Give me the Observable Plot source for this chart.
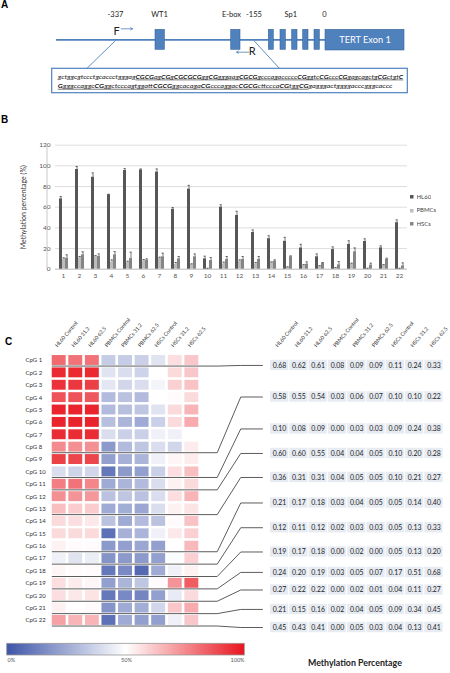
<!DOCTYPE html>
<html><head><meta charset="utf-8">
<script src="https://cdn.jsdelivr.net/npm/d3@7"></script>
<script src="https://cdn.jsdelivr.net/npm/@observablehq/plot@0.6"></script>
<style>
body{margin:0;background:#fff;}
#fig{position:relative;width:450px;height:673px;overflow:hidden;background:#fff;font-family:Lato,"Liberation Sans",sans-serif;}
.letter{position:absolute;font:bold 10px "Liberation Sans",Arial,sans-serif;line-height:10px;color:#000;}
.title{position:absolute;font:bold 8.8px Lato,sans-serif;line-height:12px;color:#222;white-space:nowrap;}
</style></head>
<body><div id="fig"></div>
<script>
// ================= DATA =================
// Panel A: promoter schematic
const promoterLabels = ["-337", "WT1", "E-box", "-155", "Sp1", "0"];
const exonName = "TERT Exon 1";
const primerNames = ["F", "R"];
const seqLines = [
  "gctggcgtccctgcaccctgggagCGCGagCGgCGCGCGggCGgggaagCGCGgcccagacccccCGggtcCGcccCGgagcagctgCGctgtC",
  "GgggccaggcCGggctcccagtggattCGCGggcacagaCGcccaggacCGCGcttcccaCGtggCGgagggactggggacccgggcaccc"
];

// Panel B: bar chart
const cpgNumbers = ["1","2","3","4","5","6","7","8","9","10","11","12","13","14","15","16","17","18","19","20","21","22"];
const barSeries = ["HL60", "PBMCs", "HSCs"];
const hl60Values = [68, 96.5, 89, 72, 95.5, 96, 94, 58, 77.5, 10, 60, 52, 35.5, 29.5, 27, 20.5, 12, 19, 24, 26.8, 20.6, 45];
const hl60Errors = [2.3, 2.9, 4.2, 0.5, 1.9, 1, 3, 1.7, 3.6, 2.6, 2.3, 4, 2.5, 2.9, 3.8, 3.6, 2.8, 2.6, 3.5, 2.6, 2, 2.7];
const pbmcValues = [9.4, 11, 12.6, 6.8, 6.5, 8, 10.6, 4.5, 4.5, 0.6, 5, 7.7, 5.2, 6.8, 2, 3.5, 2.9, 1.3, 5.2, 0.6, 3.9, 0.6];
const pbmcErrors = [1.6, 1.3, 0.6, 2.2, 1.2, 1.4, 1, 2, 0.7, 0.3, 1.8, 1.3, 1.3, 0.3, 0.3, 1, 0.6, 0.3, 0.6, 0.3, 0.6, 0.3];
const hscValues = [10.6, 13.9, 12.3, 13.9, 10.3, 8.7, 12, 10, 12, 8.4, 9.4, 9.4, 9.4, 7.7, 12, 4.8, 5.8, 4.2, 16.8, 3.9, 9.4, 3.2];
const hscErrors = [3.3, 2.9, 2.5, 3.1, 6.2, 1.3, 3.5, 2.3, 2.8, 2.9, 2.9, 2.9, 2.9, 1.3, 0.9, 2.3, 0.7, 3.2, 3.8, 1.9, 1.2, 2.9];
const yTicks = [0, 20, 40, 60, 80, 100, 120];
const yTitle = "Methylation percentage (%)";

// Panel C: heatmap (% methylation per CpG and condition) and summary table
const conditions = ["HL60 Control", "HL60 31.2", "HL60 62.5", "PBMCs Control", "PBMCs 31.2", "PBMCs 62.5", "HSCs Control", "HSCs 31.2", "HSCs 62.5"];
const cpgNames = ["CpG 1","CpG 2","CpG 3","CpG 4","CpG 5","CpG 6","CpG 7","CpG 8","CpG 9","CpG 10","CpG 11","CpG 12","CpG 13","CpG 14","CpG 15","CpG 16","CpG 17","CpG 18","CpG 19","CpG 20","CpG 21","CpG 22"];
const heatRows = [
  [82, 80, 80, 35, 35, 36, 42, 57, 62],
  [96, 96, 96, 42, 40, 37, 50, 58, 62],
  [94, 93, 91, 43, 38, 40, 47, 60, 63],
  [87, 87, 86, 30, 32, 30, 50, 51, 58],
  [97, 97, 97, 30, 31, 33, 42, 58, 66],
  [97, 97, 97, 31, 28, 25, 36, 58, 68],
  [95, 95, 95, 40, 36, 36, 46, 46, 50],
  [75, 74, 74, 20, 30, 33, 40, 38, 54],
  [91, 90, 90, 22, 27, 28, 46, 52, 54],
  [40, 37, 38, 10, 20, 22, 36, 57, 64],
  [78, 80, 76, 25, 28, 30, 40, 53, 58],
  [74, 73, 72, 32, 33, 32, 40, 57, 66],
  [64, 61, 61, 25, 26, 24, 40, 53, 56],
  [58, 57, 55, 32, 25, 30, 32, 51, 63],
  [58, 58, 58, 8, 27, 28, 46, 55, 60],
  [53, 51, 51, 20, 22, 24, 22, 50, 65],
  [46, 42, 45, 18, 20, 20, 22, 49, 60],
  [52, 51, 51, 10, 15, 6, 25, 46, 53],
  [57, 54, 52, 22, 28, 33, 51, 73, 85],
  [57, 55, 56, 10, 15, 14, 22, 44, 58],
  [53, 50, 51, 18, 25, 26, 38, 62, 68],
  [70, 66, 66, 8, 25, 22, 22, 46, 62]
];
const groupEndCpG = [1, 8, 10, 11, 13, 16, 17, 18, 19, 20, 21, 22];
const tableRows = [
  [0.68, 0.62, 0.61, 0.08, 0.09, 0.09, 0.11, 0.24, 0.33],
  [0.58, 0.55, 0.54, 0.03, 0.06, 0.07, 0.10, 0.10, 0.22],
  [0.10, 0.08, 0.09, 0.00, 0.03, 0.03, 0.09, 0.24, 0.38],
  [0.60, 0.60, 0.55, 0.04, 0.04, 0.05, 0.10, 0.20, 0.28],
  [0.36, 0.31, 0.31, 0.04, 0.05, 0.05, 0.10, 0.21, 0.27],
  [0.21, 0.17, 0.18, 0.03, 0.04, 0.05, 0.05, 0.14, 0.40],
  [0.12, 0.11, 0.12, 0.02, 0.03, 0.03, 0.05, 0.13, 0.33],
  [0.19, 0.17, 0.18, 0.00, 0.02, 0.00, 0.05, 0.13, 0.20],
  [0.24, 0.20, 0.19, 0.03, 0.05, 0.07, 0.17, 0.51, 0.68],
  [0.27, 0.22, 0.22, 0.00, 0.02, 0.01, 0.04, 0.11, 0.27],
  [0.21, 0.15, 0.16, 0.02, 0.04, 0.05, 0.09, 0.34, 0.45],
  [0.45, 0.43, 0.41, 0.00, 0.05, 0.03, 0.04, 0.13, 0.41]
];
const colorTicks = [0, 50, 100];
const colorTitle = "Methylation Percentage";

// ================= LAYOUT / STYLE =================
const FONT = "Lato, 'Liberation Sans', sans-serif";
const blue = "#4f81bd", blueDark = "#3a679f";
const barColors = ["#575757", "#bdbdbd", "#858585"];
const heatInterp = d3.piecewise(d3.interpolateRgb, ["#3f56a9", "#ffffff", "#e8161f"]);
const heatColor = {type: "diverging", domain: [0, 100], pivot: 50, interpolate: heatInterp};

// schematic layout (diagram units)
const schem = {
  line: {x1: 56, x2: 325, y: 39.4},
  boxY: [29.3, 49.3],
  siteBoxes: [[155, 164.4], [230.7, 240], [268.3, 273.3], [280, 285.3], [291.7, 297], [302.7, 308], [314, 319.3]],
  exon: [325, 404, 29.3, 50],
  labelX: [115, 159, 231, 253.5, 290.3, 323.8], labelY: 14,
  primers: [{x1: 120.7, x2: 132, y: 28.3, lx: 116, ly: 31}, {x1: 248.3, x2: 236, y: 51.7, lx: 251.7, ly: 51}],
  zoomLinks: [[115, 40, 86, 68.3], [253.3, 40, 279.3, 68.3]],
  seqBox: [51.7, 407.3, 68.3, 92.7],
  seqX: 57.3, seqY: [76.2, 85.4], seqLen: [345.4, 334.6]
};

// panel C layout (units: heat column index on x, CpG row number on y)
const CL = {
  xDomain: [-3.54, 23.6], yDomain: [-3.847, 23.62], height: 340,
  labelX: -2.03, headerY: -0.13, headerDx: -0.18,
  tableX0: 13.29, tableStep: 1.164,
  tableRowY: [1.40, 3.95, 6.53, 8.51, 10.45, 12.51, 14.51, 16.47, 18.12, 19.54, 21.11, 22.57],
  lineStart: -0.42, bend1: 9.53, bend2: 10.95, lineEnd: 12.26
};
const tableX = i => CL.tableX0 + CL.tableStep * i;

const fig = document.getElementById("fig");
function place(node, left, top) {
  node.style.position = "absolute";
  node.style.left = left + "px";
  node.style.top = top + "px";
  fig.appendChild(node);
  return node;
}
function letter(t, left, top) {
  const d = document.createElement("div");
  d.className = "letter"; d.textContent = t;
  d.style.left = left + "px"; d.style.top = top + "px";
  fig.appendChild(d);
}

// ================= PANEL A =================
const primers = primerNames.map((n, i) => ({name: n, ...schem.primers[i]}));
const plotA = Plot.plot({
  width: 450, height: 100, margin: 0,
  x: {domain: [0, 450], axis: null},
  y: {domain: [0, 100], range: [0, 100], axis: null},
  style: {background: "transparent", fontFamily: FONT, overflow: "visible"},
  marks: [
    Plot.link(schem.zoomLinks, {x1: d => d[0], y1: d => d[1], x2: d => d[2], y2: d => d[3], stroke: blue, strokeWidth: 0.9}),
    Plot.ruleY([schem.line], {x1: "x1", x2: "x2", y: "y", stroke: blue, strokeWidth: 1.8}),
    Plot.rect(schem.siteBoxes, {x1: d => d[0], x2: d => d[1], y1: schem.boxY[0], y2: schem.boxY[1], fill: blue, stroke: blueDark, strokeWidth: 0.6}),
    Plot.rect([schem.exon], {x1: d => d[0], x2: d => d[1], y1: d => d[2], y2: d => d[3], fill: blue, stroke: blueDark, strokeWidth: 0.6}),
    Plot.text([exonName], {x: (schem.exon[0] + schem.exon[1]) / 2, y: (schem.exon[2] + schem.exon[3]) / 2 + 0.3, text: d => d, fill: "white", fontSize: 9.2}),
    Plot.text(promoterLabels, {x: (d, i) => schem.labelX[i], y: schem.labelY, text: d => d, fontSize: 7.5, fill: "#222"}),
    Plot.arrow(primers, {x1: "x1", x2: "x2", y1: "y", y2: "y", stroke: blue, strokeWidth: 0.8, headLength: 4}),
    Plot.text(primers, {x: "lx", y: "ly", text: "name", fontSize: 11, fill: "#222"}),
    Plot.rect([schem.seqBox], {x1: d => d[0], x2: d => d[1], y1: d => d[2], y2: d => d[3], fill: "white", stroke: blue, strokeWidth: 1.2}),
    Plot.text(seqLines, {x: schem.seqX, y: (d, i) => schem.seqY[i], text: d => d, textAnchor: "start", fontStyle: "italic", fontSize: 6, fill: "#222"})
  ]
});
// bold the CG sites and underline the amplified CpG region
{
  const full = seqLines.join("");
  const first = full.search(/[A-Z]/);
  const last = full.length - 1 - [...full].reverse().join("").search(/[A-Z]/);
  d3.select(plotA).selectAll("text").each(function () {
    const idx = seqLines.indexOf(this.textContent);
    if (idx < 0) return;
    const line = seqLines[idx], base = seqLines.slice(0, idx).join("").length;
    const sel = d3.select(this);
    sel.text(null);
    const parts = line.match(/[A-Z]+|[a-z]+/g);
    let pos = 0;
    for (const p of parts) {
      for (let k = 0; k < p.length; ) {
        const inU = base + pos + k >= first && base + pos + k <= last;
        let j = k + 1;
        while (j < p.length && ((base + pos + j >= first && base + pos + j <= last) === inU)) j++;
        const t = sel.append("tspan").text(p.slice(k, j));
        if (/[A-Z]/.test(p)) t.attr("font-weight", "bold");
        if (inU) t.attr("text-decoration", "underline");
        k = j;
      }
      pos += p.length;
    }
    sel.attr("textLength", schem.seqLen[idx]).attr("lengthAdjust", "spacingAndGlyphs");
  });
}
place(plotA, 0, 0);

// ================= PANEL B =================
const barData = [];
cpgNumbers.forEach((c, i) => {
  barData.push({cpg: c, series: "HL60", value: hl60Values[i], err: hl60Errors[i]});
  barData.push({cpg: c, series: "PBMCs", value: pbmcValues[i], err: pbmcErrors[i]});
  barData.push({cpg: c, series: "HSCs", value: hscValues[i], err: hscErrors[i]});
});
const plotB = Plot.plot({
  width: 450, height: 150,
  marginLeft: 47, marginRight: 35, marginTop: 9.7, marginBottom: 16.3,
  style: {background: "transparent", fontFamily: FONT, fontSize: "6.5px", color: "#555", overflow: "visible"},
  facet: {data: barData, x: "cpg"},
  fx: {domain: cpgNumbers, padding: 0, label: null, tickSize: 0, tickPadding: 4, axis: "bottom"},
  x: {domain: barSeries, paddingInner: 0.05, paddingOuter: 1, axis: null},
  y: {domain: [0, 120], ticks: yTicks, tickSize: 0, tickPadding: 5, label: yTitle, labelAnchor: "center", labelOffset: 34, labelArrow: "none"},
  color: {domain: barSeries, range: barColors},
  marks: [
    Plot.ruleY(yTicks.filter(v => v > 0), {stroke: "#d6d6d6", strokeWidth: 0.8}),
    Plot.ruleY([0], {stroke: "#a8a8a8", strokeWidth: 0.8}),
    Plot.barY(barData, {x: "series", y: "value", fill: "series"}),
    Plot.ruleX(barData, {x: "series", y1: "value", y2: d => d.value + d.err, stroke: "#222", strokeWidth: 0.6}),
    Plot.tickY(barData, {x: "series", y: d => d.value + d.err, stroke: "#222", strokeWidth: 0.6, insetLeft: 0.5, insetRight: 0.5})
  ]
});
// keep the axis title plain (no direction arrow) and dark
d3.select(plotB).selectAll("text").each(function () {
  if (this.textContent.includes(yTitle)) {
    const s = d3.select(this);
    if (this.textContent !== yTitle) s.text(yTitle);
    s.attr("fill", "#333").attr("font-size", 7);
  }
});
d3.select(plotB).append("line").attr("x1", 47).attr("x2", 47).attr("y1", 9.7).attr("y2", 133.7).attr("stroke", "#bbb").attr("stroke-width", 0.8);
place(plotB, 0, 135);

const legB = Plot.legend({
  legend: "swatches", color: {domain: barSeries, range: barColors}, columns: 1, swatchSize: 3.5,
  style: {fontSize: "6px", fontFamily: FONT, lineHeight: "12.3px", color: "#444", margin: "0", background: "transparent"}
});
legB.style.width = "40px";
place(legB, 410, 191);

// ================= PANEL C =================
const heatCells = [];
heatRows.forEach((row, r) => row.forEach((v, c) => heatCells.push({cpg: r + 1, cond: c, value: v})));
const tableCells = [];
tableRows.forEach((row, g) => row.forEach((v, c) => tableCells.push({group: g, cond: c, value: v})));
const connectorPts = [];
groupEndCpG.forEach((e, g) => {
  const yb = e + 0.45, yt = CL.tableRowY[g];
  connectorPts.push({g, x: CL.lineStart, y: yb}, {g, x: CL.bend1, y: yb}, {g, x: CL.bend2, y: yt}, {g, x: CL.lineEnd, y: yt});
});

const plotC = Plot.plot({
  width: 450, height: CL.height, margin: 0,
  x: {domain: CL.xDomain, axis: null},
  y: {domain: CL.yDomain, range: [0, CL.height], axis: null},
  color: heatColor,
  style: {background: "transparent", fontFamily: FONT, overflow: "visible"},
  marks: [
    Plot.rect(heatCells, {x1: d => d.cond - 0.42, x2: d => d.cond + 0.42, y1: d => d.cpg - 0.4, y2: d => d.cpg + 0.4, fill: "value"}),
    Plot.text(cpgNames, {x: CL.labelX, y: (d, i) => i + 1, text: d => d, textAnchor: "start", fontSize: 6, fill: "#333"}),
    Plot.text(conditions, {x: (d, i) => i + CL.headerDx, y: CL.headerY, text: d => d, rotate: -50, textAnchor: "start", fontSize: 5.3, fill: "#333"}),
    Plot.text(conditions, {x: (d, i) => tableX(i) + CL.headerDx, y: CL.headerY, text: d => d, rotate: -50, textAnchor: "start", fontSize: 5.3, fill: "#333"}),
    Plot.line(connectorPts, {x: "x", y: "y", z: "g", stroke: "#4a4a4a", strokeWidth: 0.9}),
    Plot.rect(tableCells, {x1: d => tableX(d.cond) - 0.55, x2: d => tableX(d.cond) + 0.55, y1: d => CL.tableRowY[d.group] - 0.42, y2: d => CL.tableRowY[d.group] + 0.42, fill: "#e7ebf2"}),
    Plot.text(tableCells, {x: d => tableX(d.cond), y: d => CL.tableRowY[d.group], text: d => d.value.toFixed(2), fontSize: 6.9, fill: "#222"})
  ]
});
place(plotC, 0, 300);

// colour legend
const legC = Plot.legend({
  legend: "ramp",
  color: {...heatColor, ticks: colorTicks, tickFormat: d => d + "%", label: null},
  width: 250, height: 28, marginTop: 3.3, marginBottom: 13, marginLeft: 6.7, marginRight: 5.7, tickSize: 0,
  style: {background: "transparent", fontFamily: FONT, fontSize: "5.5px", color: "#555", overflow: "visible"}
});
{
  const svg = d3.select(legC);
  svg.selectAll("line").remove();
  svg.selectAll(".domain").remove();
  const img = svg.select("image");
  if (!img.empty()) {
    svg.append("rect").attr("x", img.attr("x")).attr("y", img.attr("y")).attr("width", img.attr("width")).attr("height", img.attr("height"))
      .attr("fill", "none").attr("stroke", "#999").attr("stroke-width", 0.8);
  }
  svg.selectAll("text").each(function () {
    if (this.textContent === "0%") d3.select(this).attr("text-anchor", "start");
    if (this.textContent === "100%") d3.select(this).attr("text-anchor", "end");
  });
}
place(legC, 0, 640);

const ttl = document.createElement("div");
ttl.className = "title"; ttl.textContent = colorTitle;
ttl.style.left = "308px"; ttl.style.top = "657px";
fig.appendChild(ttl);

letter("A", 1, 0);
letter("B", 1, 115);
letter("C", 5, 337);
</script>
</body></html>
